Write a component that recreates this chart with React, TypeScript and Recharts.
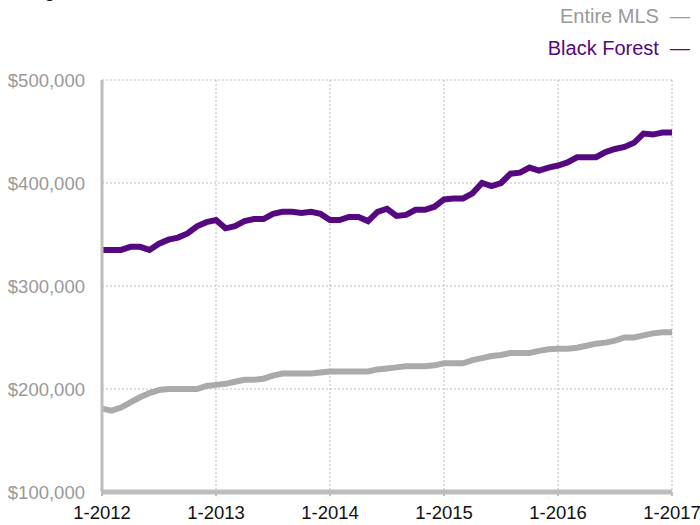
import { CartesianGrid, Line, LineChart, XAxis, YAxis } from "recharts";

const YEAR_LABELS = ["1-2012", "1-2013", "1-2014", "1-2015", "1-2016", "1-2017"];
const Y_TICKS = [100000, 200000, 300000, 400000, 500000];

// monthly values in $1000, Jan 2012 .. Jan 2017
const BLACK_FOREST = [
  335, 335, 335, 338, 338, 335, 341, 345, 347, 351, 358, 362,
  364, 356, 358, 363, 365, 365, 370, 372, 372, 371, 372, 370,
  364, 364, 367, 367, 363, 372, 375, 368, 369, 374, 374, 377,
  384, 385, 385, 390, 400, 397, 400, 409, 410, 415, 412, 415,
  417, 420, 425, 425, 425, 430, 433, 435, 439, 448, 447, 449,
  449,
];
const ENTIRE_MLS = [
  181, 179, 182, 187, 192, 196, 199, 200, 200, 200, 200, 203,
  204, 205, 207, 209, 209, 210, 213, 215, 215, 215, 215, 216,
  217, 217, 217, 217, 217, 219, 220, 221, 222, 222, 222, 223,
  225, 225, 225, 228, 230, 232, 233, 235, 235, 235, 237, 238.5,
  239, 239, 240, 242, 244, 245, 247, 250, 250, 252, 254, 255,
  255,
];

const PURPLE = "#55087f";
const GREY = "#aaaaaa";
const AXIS = "#bdbdbd";
const FONT = "'Liberation Sans', Arial, sans-serif";

const rows = BLACK_FOREST.map((v, i) => ({
  m: i,
  bf: v * 1000,
  mls: ENTIRE_MLS[i] * 1000,
}));

const fmtMoney = (v: number) => "$" + v.toLocaleString("en-US");

export default function App() {
  return (
    <div
      style={{
        position: "absolute",
        left: 0,
        top: 0,
        width: 700,
        height: 525,
        background: "#fff",
        overflow: "hidden",
        fontFamily: FONT,
      }}
    >
      {/* title sits mostly above the frame, as in the source */}
      <div
        style={{
          position: "absolute",
          left: -6,
          top: -21,
          fontSize: 20,
          color: "#111",
          whiteSpace: "nowrap",
        }}
      >
        Rolling 12-Month Calculation
      </div>
      <div
        style={{
          position: "absolute",
          right: 10,
          top: 0,
          fontSize: 20,
          lineHeight: "32px",
          textAlign: "right",
        }}
      >
        <div style={{ color: "#999" }}>Entire MLS &nbsp;—</div>
        <div style={{ color: PURPLE }}>Black Forest &nbsp;—</div>
      </div>
      <LineChart
        width={700}
        height={525}
        data={rows}
        margin={{ top: 80, right: 28, bottom: 3, left: 12 }}
      >
        <CartesianGrid
          stroke={AXIS}
          strokeDasharray="2 2"
          horizontalValues={Y_TICKS}
        />
        <XAxis
          dataKey="m"
          type="number"
          domain={[0, 60]}
          ticks={[0, 12, 24, 36, 48, 60]}
          tickFormatter={(v: number) => YEAR_LABELS[v / 12]}
          height={30}
          axisLine={{ stroke: AXIS, strokeWidth: 5 }}
          tickLine={{ stroke: AXIS, strokeWidth: 2 }}
          tickSize={4}
          tickMargin={10}
          tick={{ fill: "#111", fontSize: 18.5, fontFamily: FONT }}
          interval={0}
        />
        <YAxis
          type="number"
          domain={[100000, 500000]}
          ticks={Y_TICKS}
          tickFormatter={fmtMoney}
          width={90}
          axisLine={{ stroke: AXIS, strokeWidth: 3 }}
          tickLine={false}
          tickSize={0}
          tickMargin={17}
          tick={{ fill: "#999", fontSize: 18.5, fontFamily: FONT }}
        />
        <Line
          dataKey="mls"
          stroke={GREY}
          strokeWidth={6}
          dot={false}
          type="linear"
          isAnimationActive={false}
        />
        <Line
          dataKey="bf"
          stroke={PURPLE}
          strokeWidth={6}
          dot={false}
          type="linear"
          isAnimationActive={false}
        />
      </LineChart>
    </div>
  );
}
